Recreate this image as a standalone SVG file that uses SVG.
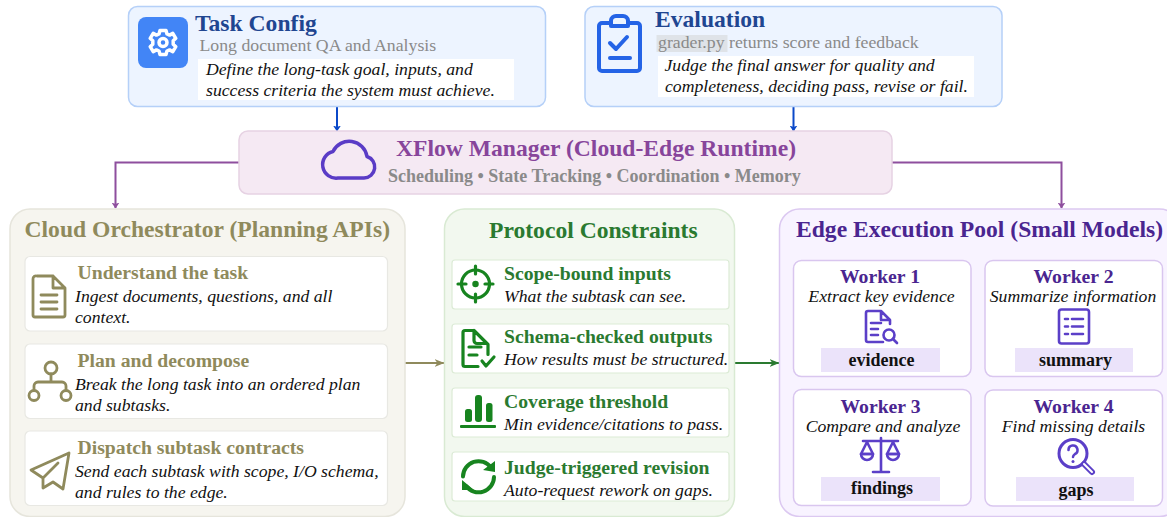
<svg xmlns="http://www.w3.org/2000/svg" width="1167" height="517" viewBox="0 0 1167 517">
<style>
text{font-family:"Liberation Serif","Times New Roman",serif}
.box{stroke-width:1.5}
.blue{fill:#edf4ff;stroke:#b5d0f8}
.h-blue{font-size:23.600px;font-weight:700;fill:#1f4691}
.sub{font-size:17.750px;fill:#8a8a8a}
.desc{font-size:17.700px;font-style:italic;fill:#111}
.wb{fill:#fff}
.olive-p{fill:#f6f5ef;stroke:#e6e5dc}
.olive-c{fill:#fff;stroke:#e8e8e3;stroke-width:1.2}
.h-ol{font-size:23.600px;font-weight:700;fill:#8f8a5c}
.t-ol{font-size:19.700px;font-weight:700;fill:#8f8a5c}
.green-p{fill:#f2f8ef;stroke:#d9ead3}
.green-c{fill:#fff;stroke:#dcebd6;stroke-width:1.2}
.h-gr{font-size:23.600px;font-weight:700;fill:#2a7a30}
.t-gr{font-size:19.700px;font-weight:700;fill:#2a7a30}
.pur-p{fill:#f8f3ff;stroke:#dcc9f1}
.pur-c{fill:#fff;stroke:#d9c6ef;stroke-width:1.5}
.h-pu{font-size:23.600px;font-weight:700;fill:#4a2590}
.t-pu{font-size:19.700px;font-weight:700;fill:#4a2590}
.pill{fill:#ebe3fa}
.lab{font-size:18px;font-weight:700;fill:#111}
.ic-ol{fill:none;stroke:#8f8a5c;stroke-width:2.800;stroke-linecap:round;stroke-linejoin:round}
.ic-gr{fill:none;stroke:#17841f;stroke-width:3.200;stroke-linecap:round;stroke-linejoin:round}
.ic-pu{fill:none;stroke:#5b3fc8;stroke-width:2.600;stroke-linecap:round;stroke-linejoin:round}
.c{fill:none;stroke-width:2}
</style>
<defs>
<marker id="a-blue" markerWidth="6" markerHeight="8" refX="5.500" refY="4" orient="auto" markerUnits="userSpaceOnUse"><path d="M0 0L6 4L0 8L1.500 4Z" fill="#0b49c9"/></marker>
<marker id="a-pur" markerWidth="6" markerHeight="8" refX="5.500" refY="4" orient="auto" markerUnits="userSpaceOnUse"><path d="M0 0L6 4L0 8L1.500 4Z" fill="#8e4f9e"/></marker>
<marker id="a-ol" markerWidth="10" markerHeight="8" refX="9.500" refY="4" orient="auto" markerUnits="userSpaceOnUse"><path d="M0 0L10 4L0 8L3 4Z" fill="#8f8a5c"/></marker>
<marker id="a-gr" markerWidth="10" markerHeight="8" refX="9.500" refY="4" orient="auto" markerUnits="userSpaceOnUse"><path d="M0 0L10 4L0 8L3 4Z" fill="#2a7a30"/></marker>
</defs>

<g id="connectors">
<path class="c" stroke="#0b49c9" d="M337 106V131" marker-end="url(#a-blue)"/>
<path class="c" stroke="#0b49c9" d="M793.500 106V131" marker-end="url(#a-blue)"/>
<path class="c" stroke="#8e4f9e" d="M239 162.500H115.500V208" marker-end="url(#a-pur)"/>
<path class="c" stroke="#8e4f9e" d="M892 162.500H1061.500V208" marker-end="url(#a-pur)"/>
<path class="c" stroke="#8f8a5c" d="M405 363H444" marker-end="url(#a-ol)"/>
<path class="c" stroke="#2a7a30" d="M735 363H779" marker-end="url(#a-gr)"/>
</g>

<g id="task-config">
<rect class="box blue" x="128.500" y="6.500" width="417" height="100" rx="9"/>
<rect x="138" y="17" width="50" height="51" rx="8" fill="#4285f6"/>
<g fill="none" stroke="#fff" stroke-width="3.500" stroke-linejoin="round">
<path d="M160 30.500h6l1 3.500 2.600 1.100 3.200-1.800 3 5-2.600 2.500v3.400l2.600 2.500-3 5-3.200-1.800-2.600 1.100-1 3.500h-6l-1-3.500-2.600-1.100-3.200 1.800-3-5 2.600-2.500v-3.400l-2.600-2.500 3-5 3.200 1.800 2.600-1.100z"/>
<circle cx="163" cy="42.500" r="4"/>
</g>
<text class="h-blue" x="195" y="31">Task Config</text>
<text class="sub" x="199.500" y="51">Long document QA and Analysis</text>
<rect class="wb" x="198" y="59" width="316" height="41"/>
<text class="desc" x="206" y="75">Define the long-task goal, inputs, and</text>
<text class="desc" x="206" y="96">success criteria the system must achieve.</text>
</g>

<g id="evaluation">
<rect class="box blue" x="585" y="6.500" width="417" height="100" rx="9"/>
<g fill="none" stroke="#2463e6" stroke-width="4" stroke-linecap="round" stroke-linejoin="round">
<path d="M611 23h-9a3 3 0 0 0-3 3v42a3 3 0 0 0 3 3h35a3 3 0 0 0 3-3V26a3 3 0 0 0-3-3h-9"/>
<path d="M611 26v-5.500a5 5 0 0 1 5-4.500h7a5 5 0 0 1 5 4.500V26z"/>
<path d="M610 43l6 6 11-12"/>
<path d="M610 58h20"/>
</g>
<text class="h-blue" x="655" y="27">Evaluation</text>
<rect x="656.500" y="35" width="71" height="17" fill="#dfe3e8"/>
<text class="sub" x="658" y="48">grader.py returns score and feedback</text>
<rect class="wb" x="658" y="56" width="316" height="41"/>
<text class="desc" x="664.500" y="71">Judge the final answer for quality and</text>
<text class="desc" x="665" y="92">completeness, deciding pass, revise or fail.</text>
</g>

<g id="xflow-manager">
<rect class="box" fill="#f5e9f3" stroke="#e6d2e3" x="239" y="131" width="653" height="63" rx="9"/>
<path d="M338 178h26a11 11 0 0 0 3-21.500a18 18 0 0 0-34-5a13.500 13.500 0 0 0 5 26.500z" fill="none" stroke="#5a3cc6" stroke-width="3.500" stroke-linejoin="round"/>
<text x="396" y="156" font-size="23.600" font-weight="700" fill="#87459b">XFlow Manager (Cloud-Edge Runtime)</text>
<text x="388" y="182" font-size="18" font-weight="700" fill="#8a8a8a">Scheduling • State Tracking • Coordination • Memory</text>
</g>

<g id="cloud-orchestrator">
<rect class="box olive-p" x="10" y="209" width="395" height="307.500" rx="20"/>
<text class="h-ol" x="24.500" y="237">Cloud Orchestrator (Planning APIs)</text>
<rect class="olive-c" x="25" y="256.500" width="362.500" height="74.500" rx="5"/>
<rect class="olive-c" x="25" y="344" width="362.500" height="74.500" rx="5"/>
<rect class="olive-c" x="25" y="431" width="362.500" height="74.500" rx="5"/>
<path class="ic-ol" d="M37 276h16l12 12v27a2 2 0 0 1-2 2H35a2 2 0 0 1-2-2V279a3 3 0 0 1 4-3zM53 276v12h12M41 295h16M41 302h16M41 309h16"/>
<g class="ic-ol"><circle cx="51" cy="368" r="6"/><circle cx="34" cy="395.500" r="5"/><circle cx="66" cy="395.500" r="5"/><path d="M51 374v8M34 390v-4a4 4 0 0 1 4-4h24a4 4 0 0 1 4 4v4"/></g>
<path class="ic-ol" d="M69 453L31 470 43 478 43 488 53 482 63 489zM43 478L58 463"/>
<text class="t-ol" x="77.500" y="279">Understand the task</text>
<text class="desc" x="75" y="302">Ingest documents, questions, and all</text>
<text class="desc" x="75" y="323">context.</text>
<text class="t-ol" x="77.500" y="367">Plan and decompose</text>
<text class="desc" x="75" y="390">Break the long task into an ordered plan</text>
<text class="desc" x="75" y="411">and subtasks.</text>
<text class="t-ol" x="77.500" y="454">Dispatch subtask contracts</text>
<text class="desc" x="75" y="477">Send each subtask with scope, I/O schema,</text>
<text class="desc" x="75" y="498">and rules to the edge.</text>
</g>

<g id="protocol-constraints">
<rect class="box green-p" x="444.500" y="209" width="290" height="307.500" rx="20"/>
<text class="h-gr" x="489" y="238">Protocol Constraints</text>
<rect class="green-c" x="452" y="260" width="277" height="49" rx="3"/>
<rect class="green-c" x="452" y="324" width="277" height="49" rx="3"/>
<rect class="green-c" x="452" y="388" width="277" height="49" rx="3"/>
<rect class="green-c" x="452" y="452" width="277" height="49" rx="3"/>
<g class="ic-gr"><circle cx="475.500" cy="284" r="14"/><path d="M475.500 266v8M475.500 294v8M458 284h8M485 284h8"/><circle cx="475.500" cy="284" r="2.500" fill="#17841f" stroke-width="1.500"/></g>
<path class="ic-gr" d="M474 330.500h-9a2 2 0 0 0-2 2v32a2 2 0 0 0 2 2h13M474 330.500l14 14v10M474 330.500v10a3 3 0 0 0 3 3h10M469 347h12M469 355h8M482 361l4 5 8-9"/>
<g fill="#17841f"><rect x="465" y="409" width="7" height="13" rx="2.500"/><rect x="475" y="395" width="7" height="27" rx="3"/><rect x="486" y="403" width="6.500" height="19" rx="2.500"/><rect x="460" y="425" width="36" height="3" rx="1"/></g>
<g class="ic-gr" style="stroke-width:4"><path d="M463 476.500a15.500 15.500 0 0 1 28-9M494 477a15.500 15.500 0 0 1-28 9"/></g>
<path fill="#17841f" d="M483 470l12 2v-11zM474 490h-12v-10z"/>
<text class="t-gr" x="504" y="280">Scope-bound inputs</text>
<text class="desc" x="504" y="302">What the subtask can see.</text>
<text class="t-gr" x="504" y="343">Schema-checked outputs</text>
<text class="desc" x="504" y="365">How results must be structured.</text>
<text class="t-gr" x="504" y="408">Coverage threshold</text>
<text class="desc" x="504" y="430">Min evidence/citations to pass.</text>
<text class="t-gr" x="504" y="474">Judge-triggered revision</text>
<text class="desc" x="504" y="496">Auto-request rework on gaps.</text>
</g>

<g id="edge-execution-pool">
<rect class="box pur-p" x="779.500" y="209" width="400" height="307.500" rx="20"/>
<text class="h-pu" x="796" y="237">Edge Execution Pool (Small Models)</text>
</g>

<g id="worker-1">
<rect class="pur-c" x="793.500" y="260.500" width="177.500" height="116" rx="8"/>
<text class="t-pu" x="880" y="283" text-anchor="middle">Worker 1</text>
<text class="desc" x="881.500" y="302" text-anchor="middle">Extract key evidence</text>
<path class="ic-pu" d="M883 342h-15a2 2 0 0 1-2-2v-27a2 2 0 0 1 2-2h13l9 9v4M881 311v9h9M871 323h10M871 329h7M871 335h7"/>
<circle class="ic-pu" cx="889" cy="335" r="5.500"/><path class="ic-pu" d="M893 339l4 4"/>
<rect class="pill" x="821" y="348" width="119" height="24"/>
<text class="lab" x="881.500" y="366" text-anchor="middle">evidence</text>
</g>
<g id="worker-2">
<rect class="pur-c" x="985" y="260.500" width="177.500" height="116" rx="8"/>
<text class="t-pu" x="1073.500" y="283" text-anchor="middle">Worker 2</text>
<text class="desc" x="1073" y="302" text-anchor="middle">Summarize information</text>
<rect class="ic-pu" x="1059" y="309.500" width="30" height="34" rx="2.500"/>
<path class="ic-pu" d="M1065 319h3M1072 319h11M1065 326.500h3M1072 326.500h11M1065 334h3M1072 334h11"/>
<rect class="pill" x="1015" y="348" width="118" height="24"/>
<text class="lab" x="1075.500" y="366" text-anchor="middle">summary</text>
</g>
<g id="worker-3">
<rect class="pur-c" x="793.500" y="389.500" width="177.500" height="116" rx="8"/>
<text class="t-pu" x="880.500" y="413" text-anchor="middle">Worker 3</text>
<text class="desc" x="883" y="432" text-anchor="middle">Compare and analyze</text>
<path class="ic-pu" d="M881 438v33M873 472h16M863 441h35M867 442l-6 12h12zM893 442l-6 12h12z"/>
<path class="ic-pu" d="M861 454a6 6 0 0 0 12 0zM887 454a6 6 0 0 0 12 0z"/>
<rect class="pill" x="821" y="477" width="119" height="24"/>
<text class="lab" x="882" y="494" text-anchor="middle">findings</text>
</g>
<g id="worker-4">
<rect class="pur-c" x="985" y="390" width="177.500" height="116" rx="8"/>
<text class="t-pu" x="1073.500" y="413" text-anchor="middle">Worker 4</text>
<text class="desc" x="1073.500" y="432" text-anchor="middle">Find missing details</text>
<circle cx="1073" cy="453.500" r="14" fill="none" stroke="#5b3fc8" stroke-width="3"/>
<path class="ic-pu" d="M1084 464l8 8" style="stroke-width:6"/>
<path d="M1084 464l8 8" stroke="#fff" stroke-width="2" stroke-linecap="round"/>
<path class="ic-pu" d="M1068.500 450a4.500 4.500 0 1 1 6.500 4c-1.500 1-2 1.500-2 3"/><circle cx="1073" cy="461.500" r="1.500" fill="#5b3fc8"/>
<rect class="pill" x="1016" y="477" width="118" height="24"/>
<text class="lab" x="1076" y="496" text-anchor="middle">gaps</text>
</g>
</svg>
